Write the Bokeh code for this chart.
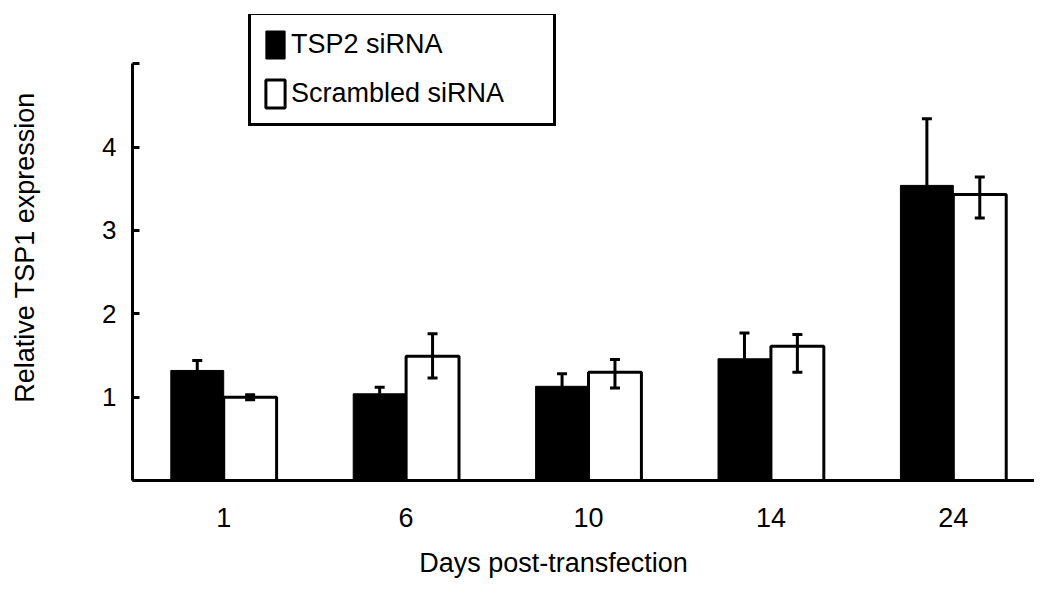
from bokeh.plotting import figure
from bokeh.models import (ColumnDataSource, Range1d, FixedTicker,
                          Whisker, TeeHead, Legend, LegendItem)
from bokeh.transform import dodge
from bokeh.embed import file_html
from bokeh.resources import INLINE

# ---- data ----
days = ["1", "6", "10", "14", "24"]
tsp2 = [1.32, 1.04, 1.13, 1.46, 3.54]          # TSP2 siRNA means
tsp2_hi = [1.44, 1.12, 1.28, 1.77, 4.34]       # upper error ends
scr = [1.00, 1.49, 1.30, 1.61, 3.43]           # Scrambled siRNA means
scr_lo = [0.97, 1.23, 1.11, 1.30, 3.15]
scr_hi = [1.03, 1.76, 1.45, 1.75, 3.64]
y_ticks = [0, 1, 2, 3, 4, 5]

FONT = "Liberation Sans"

# category slots on a numeric axis (slot i is centred at i + 0.5)
xpos = [i + 0.5 for i in range(len(days))]

src = ColumnDataSource(data=dict(x=xpos, day=days, tsp2=tsp2, tsp2_hi=tsp2_hi,
                                 scr=scr, scr_lo=scr_lo, scr_hi=scr_hi))

p = figure(width=1034, height=587,
           x_range=Range1d(0, 4.945),
           y_range=Range1d(0, 5.59),
           output_backend="svg", toolbar_location=None,
           min_border_left=132, min_border_right=0,
           min_border_top=14, min_border_bottom=107)

p.outline_line_color = None
p.xgrid.grid_line_color = None
p.ygrid.grid_line_color = None
p.background_fill_color = "white"
p.border_fill_color = "white"

bw = 0.29
off = 0.145
r1 = p.vbar(x=dodge("x", -off), top="tsp2", width=bw,
            source=src, fill_color="black", line_color="black", line_width=1)
r2 = p.vbar(x=dodge("x", off), top="scr", width=bw,
            source=src, fill_color="white", line_color="black", line_width=3)

w1 = Whisker(base=dodge("x", -off), lower="tsp2", upper="tsp2_hi",
             source=src, line_color="black", line_width=3, level="overlay",
             upper_head=TeeHead(size=10, line_width=3, line_color="black"),
             lower_head=None)
w2 = Whisker(base=dodge("x", off), lower="scr_lo", upper="scr_hi",
             source=src, line_color="black", line_width=3, level="overlay",
             upper_head=TeeHead(size=10, line_width=3, line_color="black"),
             lower_head=TeeHead(size=10, line_width=3, line_color="black"))
p.add_layout(w1)
p.add_layout(w2)

# y axis
ya = p.yaxis[0]
ya.ticker = FixedTicker(ticks=y_ticks)
ya.major_label_overrides = {0: "", 5: ""}
ya.bounds = (0, 5)
ya.axis_line_width = 3
ya.major_tick_line_width = 3
ya.major_tick_in = 7
ya.major_tick_out = 0
ya.minor_tick_line_color = None
ya.major_label_text_font = FONT
ya.major_label_text_font_size = "26px"
ya.major_label_text_color = "black"
ya.major_label_standoff = 16
ya.axis_label = "Relative TSP1 expression"
ya.axis_label_text_font = FONT
ya.axis_label_text_font_size = "27px"
ya.axis_label_text_font_style = "normal"
ya.axis_label_text_color = "black"
ya.axis_label_standoff = 59

# x axis
xa = p.xaxis[0]
xa.ticker = FixedTicker(ticks=xpos)
xa.major_label_overrides = {x: d for x, d in zip(xpos, days)}
xa.axis_line_width = 3
xa.major_tick_line_color = None
xa.minor_tick_line_color = None
xa.major_tick_in = 0
xa.major_tick_out = 0
xa.major_label_text_font = FONT
xa.major_label_text_font_size = "27px"
xa.major_label_text_color = "black"
xa.major_label_standoff = 27
# trailing no-break spaces shift the centred title a little to the left, as in the reference
xa.axis_label = "Days post-transfection" + "\u00a0" * 8
xa.axis_label_text_font = FONT
xa.axis_label_text_font_size = "27px"
xa.axis_label_text_font_style = "normal"
xa.axis_label_text_color = "black"
xa.axis_label_standoff = 18

legend = Legend(items=[LegendItem(label="TSP2 siRNA", renderers=[r1]),
                       LegendItem(label="Scrambled siRNA", renderers=[r2])],
                location=(116, 354),
                glyph_width=24, glyph_height=35, label_standoff=4,
                label_width=250, padding=12, spacing=14,
                label_text_font=FONT, label_text_font_size="27px",
                label_text_color="black",
                border_line_color="black", border_line_width=3,
                border_line_alpha=1.0,
                background_fill_color="white", background_fill_alpha=1)
p.add_layout(legend)

open("out.html", "w").write(file_html(p, INLINE))
